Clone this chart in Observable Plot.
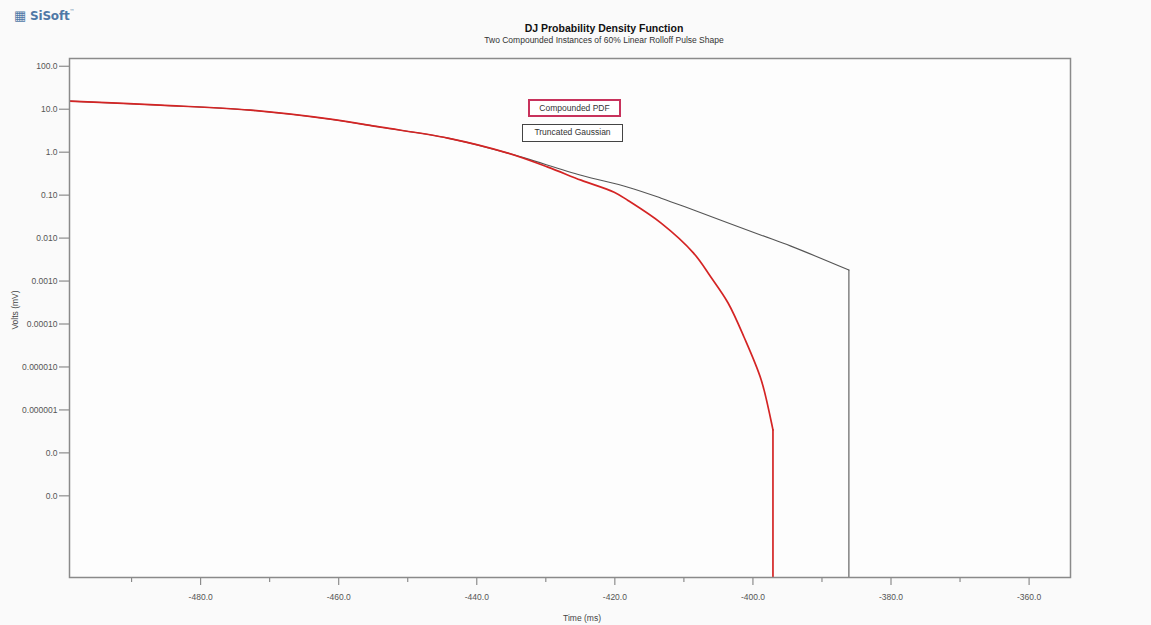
<!DOCTYPE html>
<html>
<head>
<meta charset="utf-8">
<script src="https://cdn.jsdelivr.net/npm/d3@7"></script>
<script src="https://cdn.jsdelivr.net/npm/@observablehq/plot@0.6"></script>
<style>
  body { margin: 0; background: #fafafa; font-family: "Liberation Sans", Arial, sans-serif; }
  #wrap { position: relative; width: 1151px; height: 625px; overflow: hidden; background: #fafafa; }
  #chart { position: absolute; left: 0; top: 0; }
  .ov { position: absolute; white-space: nowrap; }
  #logo { left: 14px; top: 8px; font: bold 12px "DejaVu Sans", sans-serif; color: #4f78a6; letter-spacing: -0.2px; }
  #logo .ic { font-size: 13px; }
  #logo sup { font-size: 5px; font-weight: normal; vertical-align: 7px; }
  #title { left: 404px; width: 400px; top: 22px; text-align: center; font: bold 10.5px "Liberation Sans", Arial, sans-serif; color: #111; }
  #subtitle { left: 404px; width: 400px; top: 35px; text-align: center; font: 8.5px "Liberation Sans", Arial, sans-serif; color: #333; }
  .lg { font: 8.5px "Liberation Sans", Arial, sans-serif; color: #333; background: #fff; text-align: center; box-sizing: border-box; height: 18px; line-height: 15px; }
  #lg1 { left: 528px; top: 99px; width: 93px; border: 2px solid #c8325c; }
  #lg2 { left: 522px; top: 124px; width: 101px; border: 1.5px solid #444; }
  #ylab { left: 15px; top: 310px; transform: translate(-50%, -50%) rotate(-90deg); font: 8.5px "Liberation Sans", Arial, sans-serif; color: #444; }
  #xlab { left: 582px; top: 613px; transform: translateX(-50%); font: 8.5px "Liberation Sans", Arial, sans-serif; color: #444; }
</style>
</head>
<body>
<div id="wrap">
  <div id="chart"></div>
  <div class="ov" id="logo"><span class="ic">▦</span> SiSoft<sup>™</sup></div>
  <div class="ov" id="title">DJ Probability Density Function</div>
  <div class="ov" id="subtitle">Two Compounded Instances of 60% Linear Rolloff Pulse Shape</div>
  <div class="ov lg" id="lg1">Compounded PDF</div>
  <div class="ov lg" id="lg2">Truncated Gaussian</div>
  <div class="ov" id="ylab">Volts (mV)</div>
  <div class="ov" id="xlab">Time (ms)</div>
</div>
<script>
// Truncated Gaussian (gray)
const gaussX = [-499.0, -485.8, -472.8, -461.2, -453.9, -444.2, -435.5, -424.9, -418.1, -413.3, -408.6, -398.8, -394.5, -386.1, -386.1];
const gaussY = [15.4, 12.4, 9.5, 5.85, 3.81, 2.12, 0.95, 0.29, 0.153, 0.085, 0.045, 0.0117, 0.0065, 0.0018, 1e-11];

// Compounded PDF (red)
const pdfX = [-499.0, -485.8, -472.8, -461.2, -453.9, -444.2, -435.5, -429.7, -424.9, -420.1, -418.1, -413.3, -408.6, -406.1, -403.6, -401.3, -398.8, -397.4, -397.1, -397.1];
const pdfY = [15.4, 12.4, 9.5, 5.85, 3.81, 2.12, 0.95, 0.448, 0.223, 0.117, 0.075, 0.0223, 0.00448, 0.00124, 0.000308, 4.99e-5, 4.99e-6, 5.85e-7, 3.43e-7, 1e-11];

const yTickValues = [100, 10, 1, 0.1, 0.01, 0.001, 1e-4, 1e-5, 1e-6, 1e-7, 1e-8];
const yTickLabels = ["100.0", "10.0", "1.0", "0.10", "0.010", "0.0010", "0.00010", "0.000010", "0.000001", "0.0", "0.0"];

const xMajorTicks = [-480, -460, -440, -420, -400, -380, -360];
const xTickLabels = ["-480.0", "-460.0", "-440.0", "-420.0", "-400.0", "-380.0", "-360.0"];
const xMinorTicks = [-490, -470, -450, -430, -410, -390, -370];

const toRows = (xs, ys) => xs.map((x, i) => ({x, y: ys[i]}));
const gauss = toRows(gaussX, gaussY);
const pdf = toRows(pdfX, pdfY);
// smooth body of each curve, then straight vertical drop at the truncation
const gaussBody = gauss.slice(0, gauss.length - 1);
const gaussDrop = gauss.slice(gauss.length - 2);
const pdfBody = pdf.slice(0, pdf.length - 1);
const pdfDrop = pdf.slice(pdf.length - 2);

const yFmt = d => {
  const i = yTickValues.findIndex(v => Math.abs(Math.log10(v) - Math.log10(d)) < 1e-6);
  return i >= 0 ? yTickLabels[i] : "";
};
const xFmt = d => {
  const i = xMajorTicks.findIndex(v => Math.abs(v - d) < 1e-6);
  return i >= 0 ? xTickLabels[i] : "";
};

const chart = Plot.plot({
  width: 1151,
  height: 625,
  marginTop: 58,
  marginLeft: 69,
  marginRight: 81,
  marginBottom: 48,
  style: { background: "transparent", fontFamily: "Liberation Sans, Arial, sans-serif", fontSize: "8.5px", color: "#555" },
  x: { domain: [-499, -354] },
  y: { type: "log", domain: [Math.pow(10, -9.9), Math.pow(10, 2.18)] },
  marks: [
    Plot.rect([0], { x1: -499, x2: -354, y1: Math.pow(10, -9.9), y2: Math.pow(10, 2.18), fill: "#fdfdfd" }),
    Plot.axisY({ ticks: yTickValues, tickFormat: yFmt, tickSize: 10, tickPadding: 2, label: null, stroke: "#777" }),
    Plot.axisX({ ticks: xMajorTicks, tickFormat: xFmt, tickSize: 8, tickPadding: 8, label: null, stroke: "#777" }),
    Plot.axisX({ ticks: xMinorTicks, tickFormat: () => "", tickSize: 5, label: null, stroke: "#777" }),
    Plot.line(gaussBody, { x: "x", y: "y", stroke: "#555", strokeWidth: 1.1, curve: "catmull-rom", clip: true }),
    Plot.line(gaussDrop, { x: "x", y: "y", stroke: "#555", strokeWidth: 1.1, clip: true }),
    Plot.line(pdfBody, { x: "x", y: "y", stroke: "#d42424", strokeWidth: 1.7, curve: "catmull-rom", clip: true }),
    Plot.line(pdfDrop, { x: "x", y: "y", stroke: "#d42424", strokeWidth: 1.7, clip: true }),
    Plot.frame({ stroke: "#8a8a8a", strokeWidth: 1.5 })
  ]
});
document.getElementById("chart").appendChild(chart);
</script>
</body>
</html>
